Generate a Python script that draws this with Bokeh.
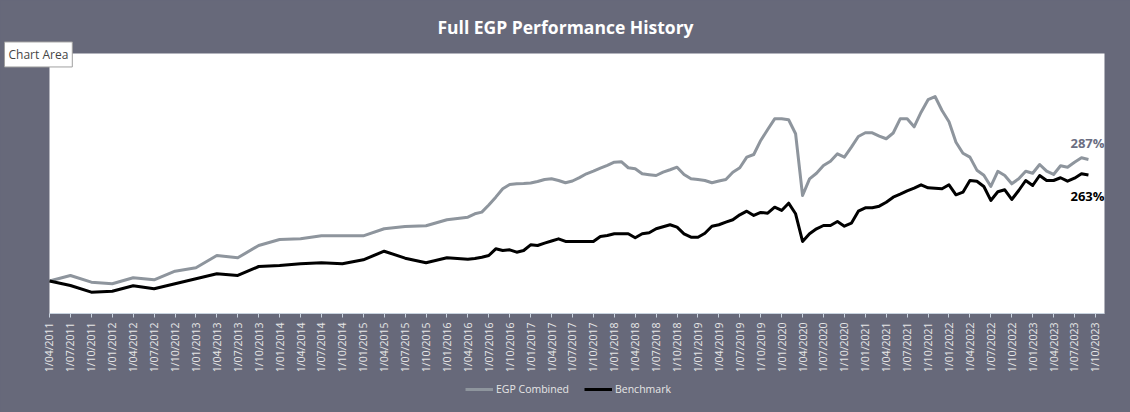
import math
import pandas as pd
from bokeh.plotting import figure
from bokeh.models import (FixedTicker, Label, Legend, LegendItem, LinearAxis, BoxAnnotation,
                          GlobalInlineStyleSheet)
from bokeh.embed import file_html
from bokeh.resources import INLINE

title_text = "Full EGP Performance History"
series_names = ["EGP Combined", "Benchmark"]
end_labels = ["287%", "263%"]

# observation dates: quarter-ends to 2015, month-ends afterwards
quarter_ends = [str(p) for p in pd.period_range("2011-03", "2015-12", freq="M")[::3]]
month_ends = [str(p) for p in pd.period_range("2016-03", "2023-08", freq="M")]

egp_quarterly = [100, 108.5, 98.2, 95.7, 104.9, 101.8, 115.1, 120.3, 139.2, 135.7,
                 154.6, 163.8, 164.9, 169.5, 169.5, 169.5, 180.3, 183.8, 184.9, 194.2]
egp_monthly = [198.2, 203.4, 206, 217, 229, 242, 248.5, 249.5, 250, 250.8,
               253, 256.2, 257.2, 254.6, 251.1, 253.8, 259, 264.9, 269, 273.5,
               278, 282.8, 283.5, 274.2, 272.6, 264.9, 263.5, 262.3, 267.4, 271.1,
               275.1, 263.9, 257.2, 256, 254.6, 251.1, 253.8, 256.2, 267.4, 274.2,
               290.5, 294.6, 316.2, 333, 349.5, 349.5, 348, 326.5, 231.5, 257.2,
               265.8, 277.7, 284.3, 295.7, 290.5, 305.9, 322.3, 328, 328, 323,
               318.8, 327.7, 349.5, 349.5, 337.2, 359.7, 378.9, 383.8, 362.3, 345.1,
               313.5, 296.6, 290.5, 270.5, 262.8, 245.4, 268.8, 262.3, 249.5, 257.2,
               268.9, 265.8, 279.2, 268.9, 263.9, 277.2, 275.1, 282.8, 289.5, 287]

bench_quarterly = [100, 93.1, 82.8, 84.3, 92.6, 88, 95.7, 103.4, 111.1, 108.5,
                   122.3, 123.8, 126.5, 128, 126.5, 132.6, 145.8, 135.1, 128, 135.7]
bench_monthly = [133.5, 134.6, 136.6, 139.2, 149.5, 146.9, 148, 144.3, 146.9, 155.7,
                 154.6, 158.2, 161.5, 164.9, 160.8, 160.8, 160.8, 160.8, 160.8, 168.5,
                 170, 172.6, 172.6, 172.6, 166.5, 172.6, 174.2, 180.3, 183.5, 186.5,
                 182.8, 172.6, 167.4, 167.4, 173.5, 184.3, 186.5, 190.5, 194.2, 201.8,
                 207.4, 200.8, 205.4, 204.3, 213.5, 208.5, 219.7, 203.4, 160.8, 172.6,
                 180.3, 185.4, 185.4, 191.5, 184.3, 188.9, 207.4, 212.6, 212.6, 215.1,
                 221.2, 228.9, 233.5, 238.5, 242.8, 248, 243.4, 242.5, 241.8, 248,
                 232.6, 236.6, 254.6, 253.5, 245.4, 223.9, 237.2, 240.3, 225.4, 239.2,
                 254.6, 246.9, 262.3, 254.6, 254.6, 258.8, 253.5, 258.2, 264.9, 263]

tick_labels = ["1/04/2011", "1/07/2011", "1/10/2011", "1/01/2012", "1/04/2012", "1/07/2012",
               "1/10/2012", "1/01/2013", "1/04/2013", "1/07/2013", "1/10/2013", "1/01/2014",
               "1/04/2014", "1/07/2014", "1/10/2014", "1/01/2015", "1/04/2015", "1/07/2015",
               "1/10/2015", "1/01/2016", "1/04/2016", "1/07/2016", "1/10/2016", "1/01/2017",
               "1/04/2017", "1/07/2017", "1/10/2017", "1/01/2018", "1/04/2018", "1/07/2018",
               "1/10/2018", "1/01/2019", "1/04/2019", "1/07/2019", "1/10/2019", "1/01/2020",
               "1/04/2020", "1/07/2020", "1/10/2020", "1/01/2021", "1/04/2021", "1/07/2021",
               "1/10/2021", "1/01/2022", "1/04/2022", "1/07/2022", "1/10/2022", "1/01/2023",
               "1/04/2023", "1/07/2023", "1/10/2023"]


def month_index(labels):
    # month-end of month M ~ first day of following month; 0 = 1/04/2011
    out = []
    for s in labels:
        y, m = s.split("-")
        out.append((int(y) - 2011) * 12 + int(m) - 3)
    return out


dates = quarter_ends + month_ends
xs = month_index(dates)
egp = egp_quarterly + egp_monthly
bench = bench_quarterly + bench_monthly

tick_pos = list(range(0, 3 * len(tick_labels), 3))

BG = "#67697A"
FONT = "Open Sans"
X_END = 151.3          # right edge of the white plot area (months)
Y_LO, Y_HI = 50, 450   # value range of the white plot area

p = figure(width=1130, height=412, x_range=(-7.027, 155.03), y_range=(-102.3, 531.5),
           output_backend="svg", toolbar_location=None,
           x_axis_location=None, y_axis_location=None, min_border=0)
p.stylesheets = [GlobalInlineStyleSheet(css="html,body{margin:0;padding:0;background:%s;overflow:hidden;}" % BG)]
p.background_fill_color = BG
p.border_fill_color = BG
p.outline_line_color = None
p.grid.visible = False

p.add_layout(BoxAnnotation(left=0, right=X_END, bottom=Y_LO, top=Y_HI, fill_color="white",
                           fill_alpha=1, line_color=None, level="underlay"))

r1 = p.line(xs, egp, line_color="#8E959D", line_width=3, line_join="round")
r2 = p.line(xs, bench, line_color="black", line_width=3, line_join="round")

ax = LinearAxis(fixed_location=Y_LO, bounds=(0, X_END))
ax.ticker = FixedTicker(ticks=tick_pos)
ax.major_label_overrides = {t: lab for t, lab in zip(tick_pos, tick_labels)}
ax.major_label_orientation = math.pi / 2
ax.major_label_text_color = "#E6E6E6"
ax.major_label_text_font = FONT
ax.major_label_text_font_size = "10.5px"
ax.major_label_standoff = 5
ax.axis_line_color = "#C8D2DE"
ax.major_tick_line_color = "#C8D2DE"
ax.major_tick_out = 4
ax.major_tick_in = 0
ax.minor_tick_line_color = None
p.add_layout(ax, "below")

legend = Legend(items=[LegendItem(label=series_names[0], renderers=[r1]),
                       LegendItem(label=series_names[1], renderers=[r2])],
                orientation="horizontal", location=(465, 16))
legend.background_fill_alpha = 0
legend.border_line_alpha = 0
legend.label_text_color = "#E6E6E6"
legend.label_text_font = FONT
legend.label_text_font_size = "10.5px"
legend.glyph_width = 28
legend.glyph_height = 14
legend.label_height = 14
legend.label_standoff = 3
legend.spacing = 15
legend.padding = 0
legend.margin = 0
p.add_layout(legend, "center")

p.add_layout(Label(x=74.0, y=491.5, text=title_text, text_align="center", text_baseline="middle",
                   text_color="white", text_font=FONT, text_font_style="bold",
                   text_font_size="17.5px"))
p.add_layout(Label(x=X_END, y=313, text=end_labels[0], text_align="right", text_baseline="middle",
                   text_color="#6B6E82", text_font=FONT, text_font_style="bold",
                   text_font_size="13px"))
p.add_layout(Label(x=X_END, y=231.5, text=end_labels[1], text_align="right", text_baseline="middle",
                   text_color="black", text_font=FONT, text_font_style="bold",
                   text_font_size="13px"))
p.add_layout(Label(x=-6.45, y=448.5, text="Chart Area", text_align="left", text_baseline="middle",
                   text_color="#454545", text_font=FONT, text_font_size="12px",
                   background_fill_color="white", border_line_color="#A0A0A0", padding=4))

open("out.html", "w").write(file_html(p, INLINE))
